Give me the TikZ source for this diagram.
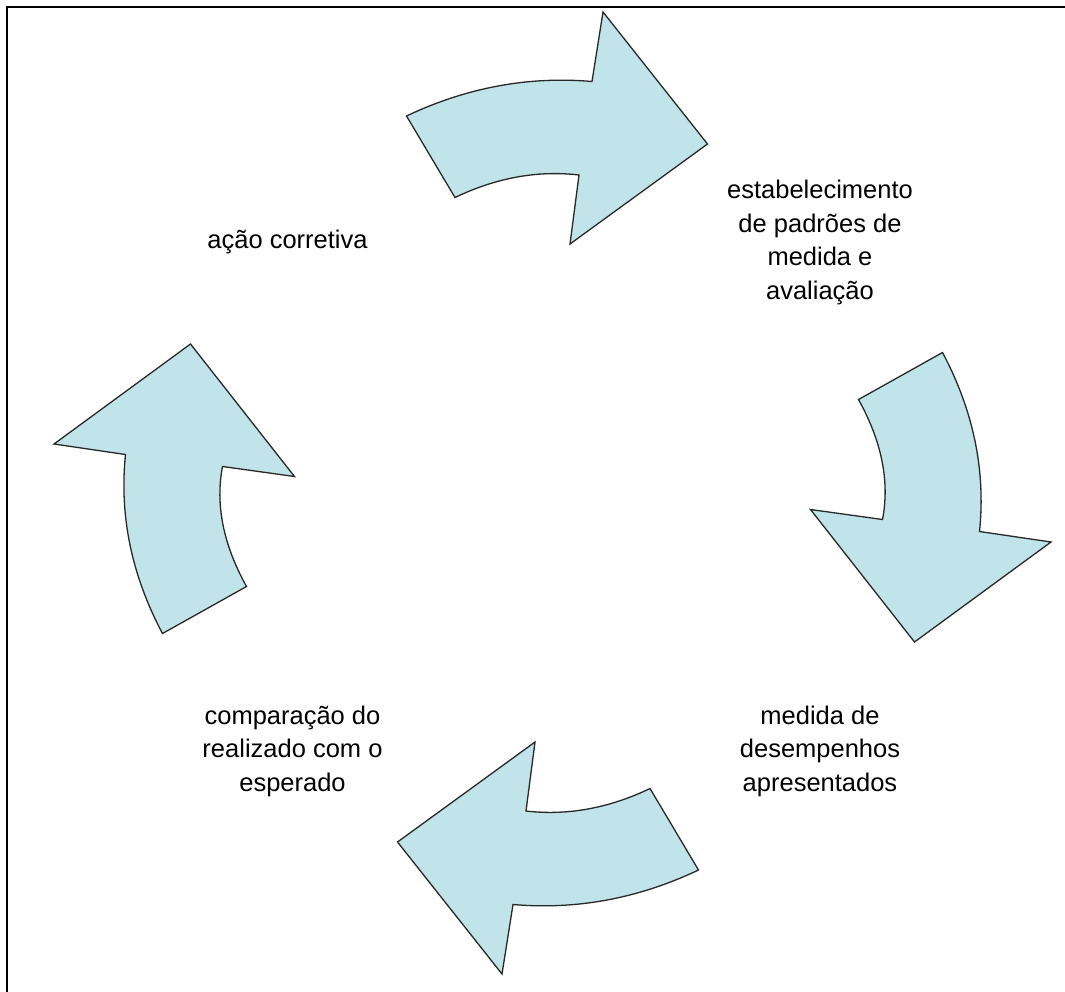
\documentclass[tikz,border=0pt]{standalone}
\usepackage{fontspec}
\setmainfont{Liberation Sans}
\definecolor{arrowfill}{RGB}{192,228,233}
\definecolor{arrowline}{RGB}{40,40,40}
\tikzset{
  cyclearrow/.style={fill=arrowfill, draw=arrowline, line width=1.3pt, line join=miter},
  label/.style={align=center, inner sep=0pt, font=\fontsize{25.5}{33.5}\selectfont},
  frameline/.style={line width=2.6pt, line join=miter}
}
\begin{document}
\begin{tikzpicture}[x=1pt, y=-1pt]
\useasboundingbox (0,0) rectangle (1065,991);
% frame (top and left edges)
\draw[frameline] (7,995) -- (7,7) -- (1070,7);
% top arrow
\path[cyclearrow] (406.5,116) .. controls (466.7,87.5) and (528.5,76) .. (592,81.5) -- (603,12) -- (707.5,144) -- (570,244) -- (579,175) .. controls (537.7,170.2) and (496.3,177.7) .. (455,197.5) -- cycle;
% right arrow
\path[cyclearrow] (942.5,352.5) .. controls (973.5,410.8) and (985.8,470.5) .. (979.5,531.5) -- (1051,542) -- (914.5,642) -- (810.5,509.5) -- (882.5,519.5) .. controls (889.8,481.5) and (881.8,441.5) .. (858.5,399.5) -- cycle;
% bottom arrow
\path[cyclearrow] (698.5,870) .. controls (638.3,898.5) and (576.5,910) .. (513,904.5) -- (502,974) -- (397.5,842) -- (535,742) -- (526,811) .. controls (567.3,815.8) and (608.7,808.3) .. (650,788.5) -- cycle;
% left arrow
\path[cyclearrow] (162.5,633.5) .. controls (131.5,575.2) and (119.2,515.5) .. (125.5,454.5) -- (54,444) -- (190.5,344) -- (294.5,476.5) -- (222.5,466.5) .. controls (215.2,504.5) and (223.2,544.5) .. (246.5,586.5) -- cycle;
% labels
\node[label] (estab) at (820,242.5) {estabelecimento\\de padrões de\\medida e\\avaliação};
\node[label] (medida) at (820,751) {medida de\\desempenhos\\apresentados};
\node[label] (compar) at (292.5,751) {comparação do\\realizado com o\\esperado};
\node[label, anchor=base] (acao) at (287.5,248.3) {ação corretiva};
\end{tikzpicture}
\end{document}
